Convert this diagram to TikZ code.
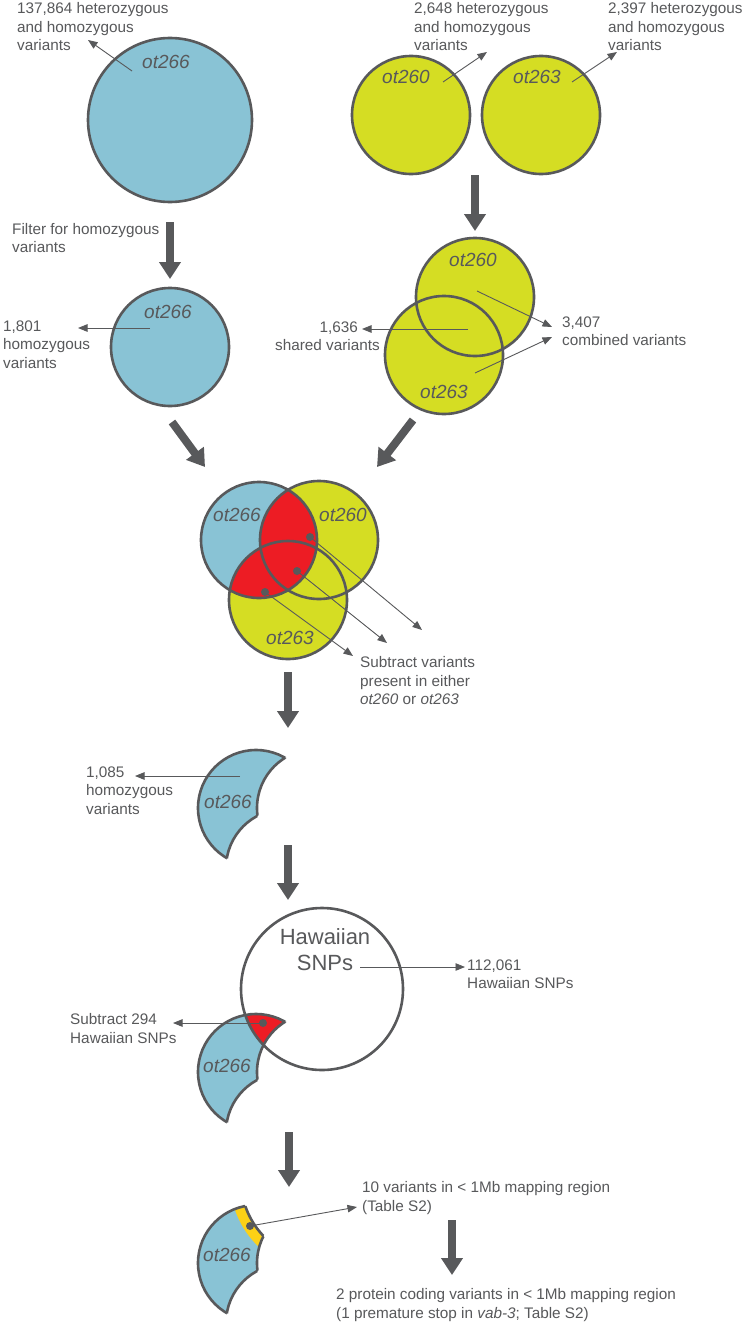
\documentclass[tikz,border=0pt]{standalone}
\usepackage{fontspec}
\setmainfont{Liberation Sans}
\usetikzlibrary{arrows.meta}
\definecolor{cblue}{HTML}{89C3D5}
\definecolor{cyel}{HTML}{D5DD23}
\definecolor{cred}{HTML}{ED1C24}
\definecolor{cgold}{HTML}{FCD116}
\definecolor{cgray}{HTML}{58595B}
% crescent helper circles (local frame)
\newcommand\cirA[1]{\path[#1] (256,808) circle[radius=58pt];}
\newcommand\cirB[1]{\path[#1] (316,808) circle[radius=59pt];}
\newcommand\cirC[1]{\path[#1] (285,868) circle[radius=59pt];}
\newcommand\cirH[1]{\path[#1] (322,725) circle[radius=81pt];}
\newcommand\inA{\clip (256,808) circle[radius=58pt];}
\newcommand\outB{\clip (-50,-50) -- (800,-50) -- (800,1400) -- (-50,1400) -- cycle (316,808) circle[radius=59pt];}
\newcommand\outC{\clip (-50,-50) -- (800,-50) -- (800,1400) -- (-50,1400) -- cycle (285,868) circle[radius=59pt];}
\newcommand\outH{\clip (-50,-50) -- (800,-50) -- (800,1400) -- (-50,1400) -- cycle (322,725) circle[radius=81pt];}
\begin{document}
\begin{tikzpicture}[x=1pt,y=-1pt,
  outl/.style={draw=cgray,line width=2.6pt},
  bigarrow/.style={draw=cgray,line width=8pt,-{Triangle[width=21pt,length=17pt]}},
  thinarrow/.style={draw=cgray,line width=0.9pt,-{Triangle[width=7.5pt,length=9.5pt]}},
  txt/.style={inner sep=0pt,text=cgray,font=\fontsize{15.3}{18.5}\selectfont,align=left,anchor=north west},
  lab/.style={inner sep=0pt,text=cgray,font=\fontsize{19}{22}\selectfont\itshape},
  dotmark/.style={circle,fill=cgray,inner sep=0pt,minimum size=8pt}]
\useasboundingbox (0,0) rectangle (747,1322);
\fill[white] (0,0) rectangle (747,1322);

% ---------- top row ----------
\path[fill=cblue,outl] (170,120) circle[radius=82pt];
\node[lab] (l266a) at (166,62) {ot266};
\path[fill=cyel,outl] (411,115) circle[radius=59pt];
\path[fill=cyel,outl] (541,115) circle[radius=59pt];
\node[lab] (l260a) at (406,77) {ot260};
\node[lab] (l263a) at (537,77) {ot263};

\node[txt] (t1) at (17,2.5) {137,864 heterozygous\\and homozygous\\variants};
\node[txt] (t2) at (414,2.5) {2,648 heterozygous\\and homozygous\\variants};
\node[txt] (t3) at (608,2.5) {2,397 heterozygous\\and homozygous\\variants};

\coordinate (a1s) at (132,71); \coordinate (a1e) at (88,40);
\coordinate (a2s) at (443,82); \coordinate (a2e) at (487,52);
\coordinate (a3s) at (572,82); \coordinate (a3e) at (617,52);
\draw[thinarrow] (a1s) -- (a1e);
\draw[thinarrow] (a2s) -- (a2e);
\draw[thinarrow] (a3s) -- (a3e);

% ---------- second row ----------
\node[txt] (t4) at (12,223) {Filter for homozygous\\variants};
\coordinate (b1s) at (170,222); \coordinate (b1e) at (170,279);
\draw[bigarrow] (b1s) -- (b1e);
\coordinate (b2s) at (475,175); \coordinate (b2e) at (475,231);
\draw[bigarrow] (b2s) -- (b2e);

\path[fill=cblue,outl] (170,347) circle[radius=59pt];
\node[lab] (l266b) at (168,312) {ot266};
\node[txt] (t5) at (3,320.5) {1,801\\homozygous\\variants};
\coordinate (a4s) at (150,328); \coordinate (a4e) at (78,328);
\draw[thinarrow] (a4s) -- (a4e);

\fill[cyel] (475,297) circle[radius=59pt];
\fill[cyel] (444,355) circle[radius=59pt];
\draw[outl] (475,297) circle[radius=59pt];
\draw[outl] (444,355) circle[radius=59pt];
\node[lab] (l260b) at (473,260) {ot260};
\node[lab] (l263b) at (444,392) {ot263};
\node[txt,anchor=north east,align=right] (t6) at (380,321.5) {1,636\hspace*{22pt}\\shared variants};
\node[txt] (t7) at (562,316.5) {3,407\\combined variants};
\coordinate (a5s) at (468,329); \coordinate (a5e) at (362,329);
\coordinate (a6s) at (477,291); \coordinate (a6e) at (552,327);
\coordinate (a7s) at (475,373); \coordinate (a7e) at (552,337);
\draw[thinarrow] (a5s) -- (a5e);
\draw[thinarrow] (a6s) -- (a6e);
\draw[thinarrow] (a7s) -- (a7e);

% ---------- Venn ----------
\coordinate (b3s) at (172,422); \coordinate (b3e) at (205,467);
\coordinate (b4s) at (413,420); \coordinate (b4e) at (377,467);
\draw[bigarrow] (b3s) -- (b3e);
\draw[bigarrow] (b4s) -- (b4e);

\fill[cblue] (259,540) circle[radius=58pt];
\fill[cyel] (319,540) circle[radius=59pt];
\fill[cyel] (288,600) circle[radius=59pt];
\begin{scope}
  \clip (259,540) circle[radius=58pt];
  \fill[cred] (319,540) circle[radius=59pt];
  \fill[cred] (288,600) circle[radius=59pt];
\end{scope}
\draw[outl] (259,540) circle[radius=58pt];
\draw[outl] (319,540) circle[radius=59pt];
\draw[outl] (288,600) circle[radius=59pt];
\node[lab] (l266c) at (237,515) {ot266};
\node[lab] (l260c) at (343,515) {ot260};
\node[lab] (l263c) at (290,638) {ot263};

\node[dotmark] (d1) at (310,537) {};
\node[dotmark] (d2) at (297,571) {};
\node[dotmark] (d3) at (265,592) {};
\coordinate (e1) at (422,630);
\coordinate (e2) at (387,643);
\coordinate (e3) at (353,656);
\draw[thinarrow] (d1.center) -- (e1);
\draw[thinarrow] (d2.center) -- (e2);
\draw[thinarrow] (d3.center) -- (e3);
\node[txt] (t8) at (360,656.5) {Subtract variants\\present in either\\\textit{ot260} or \textit{ot263}};

% ---------- crescent 1 ----------
\begin{scope}
  \begin{scope}\outB\outC \cirA{fill=cblue}\cirA{outl}\end{scope}
  \begin{scope}\inA\outC \cirB{outl}\end{scope}
  \begin{scope}\inA\outB \cirC{outl}\end{scope}
\end{scope}
\coordinate (b5s) at (288,672); \coordinate (b5e) at (288,728);
\draw[bigarrow] (b5s) -- (b5e);
\node[lab] (l266d) at (228,802) {ot266};
\node[txt] (t9) at (86,766.5) {1,085\\homozygous\\variants};
\coordinate (a9s) at (240,776); \coordinate (a9e) at (135,776);
\draw[thinarrow] (a9s) -- (a9e);

% ---------- crescent 2 + Hawaiian ----------
\begin{scope}[shift={(0,264)}]
  \begin{scope}\outB\outC \cirA{fill=cblue}
    \begin{scope}\inA \cirH{fill=cred}\end{scope}
    \cirA{outl}\end{scope}
  \begin{scope}\inA\outC \cirB{outl}\end{scope}
  \begin{scope}\inA\outB \cirC{outl}\end{scope}
  \cirH{outl}
\end{scope}
\coordinate (b6s) at (288,845); \coordinate (b6e) at (288,900);
\draw[bigarrow] (b6s) -- (b6e);
\node[inner sep=0pt,text=cgray,align=center,font=\fontsize{22}{26}\selectfont] (haw) at (325,950) {Hawaiian\\SNPs};
\node[lab] (l266e) at (227,1066) {ot266};
\coordinate (a10s) at (360,967); \coordinate (a10e) at (465,967);
\draw[thinarrow] (a10s) -- (a10e);
\node[txt] (t10) at (467,959.5) {112,061\\Hawaiian SNPs};
\node[dotmark] (d4) at (263,1023) {};
\coordinate (a11e) at (173,1023);
\draw[thinarrow] (d4.center) -- (a11e);
\node[txt] (t11) at (70,1013.5) {Subtract 294\\Hawaiian SNPs};

% ---------- crescent 3 ----------
\begin{scope}[shift={(0,455)}]
  \begin{scope}\outB\outC\outH \cirA{fill=cblue}
    \begin{scope}\inA \path[fill=cgold] (322,725) circle[radius=92pt];\end{scope}
    \cirA{outl}\end{scope}
  \begin{scope}\inA\outC\outH \cirB{outl}\end{scope}
  \begin{scope}\inA\outB\outH \cirC{outl}\end{scope}
  \begin{scope}\inA\outB\outC \cirH{outl}\end{scope}
\end{scope}
\coordinate (b7s) at (289,1132); \coordinate (b7e) at (289,1187);
\draw[bigarrow] (b7s) -- (b7e);
\node[lab] (l266f) at (227,1255) {ot266};
\node[dotmark] (d5) at (250,1226) {};
\coordinate (a12e) at (357,1207);
\draw[thinarrow] (d5.center) -- (a12e);
\node[txt] (t12) at (362,1181.5) {10 variants in < 1Mb mapping region\\(Table S2)};
\coordinate (b8s) at (452,1220); \coordinate (b8e) at (452,1275);
\draw[bigarrow] (b8s) -- (b8e);
\node[txt] (t13) at (336,1288.5) {2 protein coding variants in < 1Mb mapping region\\(1 premature stop in \textit{vab-3}; Table S2)};
\end{tikzpicture}
\end{document}
